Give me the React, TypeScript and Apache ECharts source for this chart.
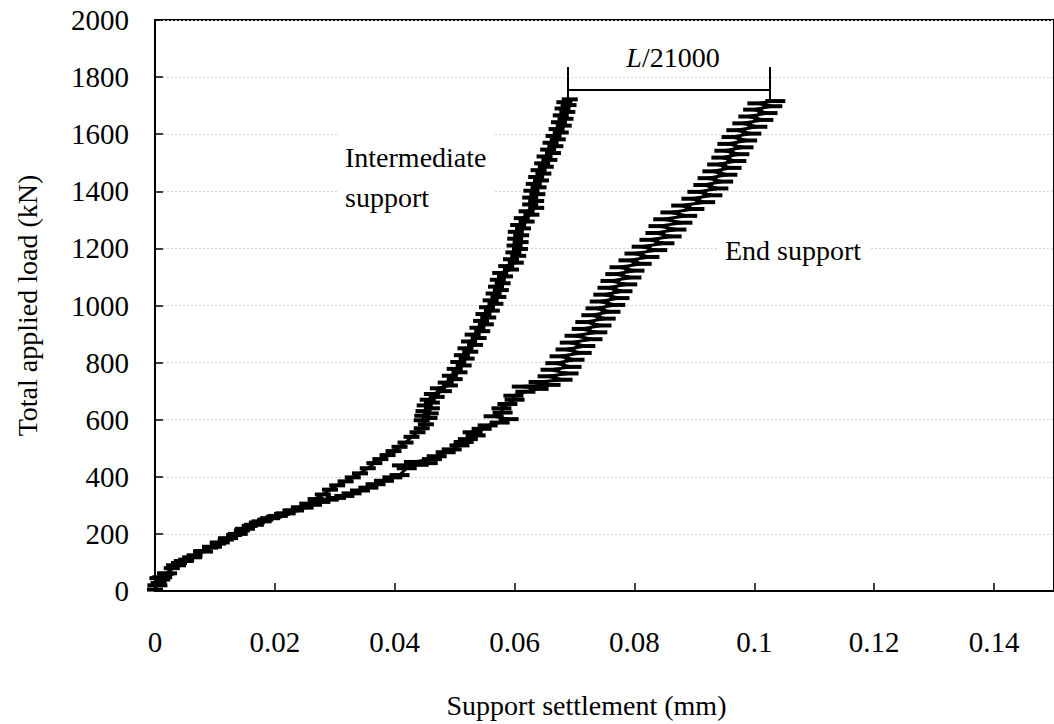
import React, { useEffect, useRef } from "react";
import * as echarts from "echarts";

// Support settlement (mm) vs total applied load (kN)
const intermediateSupport: number[][] = [
  [0.0, 5], [0.0006, 28], [0.0012, 40], [0.0004, 45], [0.0018, 60], [0.0028, 80], [0.004, 98],
  [0.0052, 110], [0.0066, 125], [0.0078, 140], [0.0092, 152], [0.0105, 166], [0.0118, 180],
  [0.0132, 196], [0.0145, 212], [0.0158, 228], [0.017, 240], [0.0184, 250], [0.0198, 260],
  [0.0212, 270], [0.0226, 282], [0.024, 293], [0.0254, 306], [0.0268, 322], [0.028, 338],
  [0.0292, 355], [0.0304, 370], [0.0318, 384], [0.033, 398], [0.0342, 412], [0.0355, 430],
  [0.0366, 448], [0.0376, 462], [0.0388, 476], [0.0398, 490], [0.0408, 505], [0.0418, 520],
  [0.0428, 540], [0.0438, 556], [0.0445, 570], [0.0452, 584], [0.0445, 598], [0.0458, 606],
  [0.0446, 614], [0.046, 622], [0.0448, 630], [0.0462, 640], [0.045, 650], [0.0462, 660],
  [0.0455, 670], [0.047, 680], [0.0462, 690], [0.0482, 700], [0.0472, 710], [0.0492, 720],
  [0.0485, 730], [0.05, 742], [0.0492, 754], [0.0508, 766], [0.05, 778], [0.0515, 790],
  [0.0506, 802], [0.052, 814], [0.0512, 826], [0.0526, 838], [0.0518, 850], [0.0534, 862],
  [0.0524, 874], [0.054, 886], [0.053, 898], [0.0546, 910], [0.0538, 922], [0.0552, 934],
  [0.0544, 946], [0.0556, 958], [0.0548, 970], [0.0562, 982], [0.0554, 994], [0.0568, 1006],
  [0.056, 1018], [0.0573, 1030], [0.0565, 1042], [0.0577, 1054], [0.0569, 1066], [0.058, 1078],
  [0.0572, 1090], [0.0584, 1102], [0.0576, 1114], [0.0594, 1126], [0.0586, 1138], [0.0602, 1150],
  [0.0594, 1162], [0.0606, 1174], [0.0598, 1186], [0.0609, 1198], [0.06, 1210], [0.061, 1222],
  [0.0601, 1234], [0.0611, 1246], [0.0602, 1258], [0.0614, 1270], [0.0606, 1282], [0.062, 1294],
  [0.0612, 1306], [0.0628, 1318], [0.062, 1330], [0.0636, 1342], [0.0626, 1354], [0.0636, 1366],
  [0.0626, 1378], [0.0638, 1390], [0.0628, 1402], [0.064, 1414], [0.0632, 1426], [0.0644, 1438],
  [0.0636, 1450], [0.0648, 1462], [0.064, 1474], [0.0652, 1486], [0.0646, 1498], [0.0658, 1510],
  [0.065, 1522], [0.0664, 1534], [0.0656, 1546], [0.0668, 1558], [0.066, 1570], [0.0672, 1582],
  [0.0665, 1594], [0.0677, 1606], [0.067, 1618], [0.0682, 1630], [0.0674, 1642], [0.0685, 1654],
  [0.0677, 1666], [0.0688, 1678], [0.068, 1690], [0.069, 1702], [0.0683, 1712], [0.0692, 1722],
];

const endSupport: number[][] = [
  [0.0004, 20], [0.0012, 48], [0.002, 62], [0.0035, 90], [0.0048, 105], [0.0062, 118],
  [0.008, 138], [0.0095, 155], [0.0108, 170], [0.0122, 185], [0.0138, 200], [0.015, 218],
  [0.0165, 232], [0.0178, 244], [0.0192, 255], [0.0205, 263], [0.0218, 272], [0.0232, 282],
  [0.0248, 292], [0.0262, 302], [0.0276, 312], [0.029, 320], [0.0302, 326], [0.0316, 333],
  [0.0328, 342], [0.0342, 352], [0.0356, 362], [0.0368, 374], [0.0382, 386], [0.0396, 398],
  [0.0408, 406], [0.042, 430], [0.0412, 440], [0.044, 442], [0.0455, 448], [0.0432, 452],
  [0.0462, 462], [0.047, 472], [0.0485, 486], [0.0495, 496], [0.0508, 510], [0.0515, 522],
  [0.0522, 532], [0.0535, 545], [0.053, 556], [0.0545, 568], [0.0555, 580], [0.0575, 590],
  [0.059, 602], [0.0565, 612], [0.058, 625], [0.0578, 640], [0.0588, 655], [0.06, 670],
  [0.0598, 684], [0.0618, 698], [0.064, 708], [0.0612, 716], [0.066, 722], [0.064, 732],
  [0.068, 740], [0.0655, 752], [0.069, 762], [0.066, 775], [0.0695, 785], [0.0668, 798],
  [0.07, 810], [0.0675, 822], [0.0712, 834], [0.0685, 846], [0.0718, 858], [0.0692, 870],
  [0.073, 882], [0.07, 894], [0.0738, 906], [0.0712, 918], [0.0745, 930], [0.0718, 942],
  [0.0752, 954], [0.0728, 966], [0.076, 978], [0.0735, 990], [0.0768, 1002], [0.0742, 1014],
  [0.0775, 1026], [0.0748, 1038], [0.078, 1050], [0.0755, 1062], [0.0788, 1074], [0.076, 1086],
  [0.0795, 1098], [0.0768, 1110], [0.08, 1122], [0.0775, 1134], [0.0812, 1146], [0.079, 1158],
  [0.0825, 1170], [0.08, 1182], [0.0838, 1194], [0.0812, 1206], [0.085, 1218], [0.0825, 1230],
  [0.0862, 1242], [0.0835, 1254], [0.087, 1266], [0.084, 1278], [0.088, 1290], [0.0848, 1302],
  [0.0888, 1314], [0.086, 1326], [0.09, 1338], [0.0878, 1350], [0.0918, 1362], [0.0895, 1374],
  [0.093, 1386], [0.0905, 1398], [0.094, 1410], [0.0915, 1422], [0.0948, 1434], [0.0922, 1446],
  [0.0955, 1458], [0.093, 1470], [0.0962, 1482], [0.0938, 1494], [0.097, 1506], [0.0945, 1518],
  [0.0975, 1530], [0.095, 1542], [0.0982, 1554], [0.0955, 1566], [0.0988, 1578], [0.0962, 1590],
  [0.0995, 1602], [0.097, 1614], [0.1005, 1626], [0.098, 1638], [0.1015, 1650], [0.099, 1662],
  [0.1022, 1674], [0.0998, 1686], [0.103, 1698], [0.1005, 1708], [0.1035, 1716],
];

// L/21000 bracket (settlement positions and load levels)
const bracketSettlement = [0.0688, 0.1025];
const bracketLoad = 1755;
const bracketTickLoads = [1720, 1835];

const annotationTexts = ["Intermediate\nsupport", "End support", "{i|L}/21000"];

const FONT = "Liberation Serif";

export default function App() {
  const ref = useRef<HTMLDivElement>(null);
  useEffect(() => {
    const chart = echarts.init(ref.current!, null, { renderer: "svg" });
    const markerSeries = (name: string, data: number[][], w: number) => ({
      name,
      type: "line",
      data,
      symbol: "rect",
      symbolSize: [w, 4],
      showAllSymbol: true,
      itemStyle: { color: "#000" },
      lineStyle: { color: "#000", width: 3 },
      z: 3,
    });
    chart.setOption({
      animation: false,
      backgroundColor: "#fff",
      textStyle: { fontFamily: FONT },
      grid: {
        left: 155,
        top: 20,
        bottom: 132,
        right: -8,
        show: true,
        borderColor: "#000",
        borderWidth: 2,
        backgroundColor: "transparent",
      },
      xAxis: {
        type: "value",
        min: 0,
        max: 0.15,
        interval: 0.02,
        name: "Support settlement (mm)",
        nameLocation: "middle",
        nameGap: 100,
        nameTextStyle: { fontFamily: FONT, fontSize: 28, color: "#000", padding: [0, 36, 0, 0] },
        axisLine: { lineStyle: { color: "#000", width: 2 } },
        axisTick: { inside: true, length: 8, lineStyle: { color: "#000", width: 1.5 } },
        axisLabel: {
          fontFamily: FONT,
          fontSize: 29,
          color: "#000",
          margin: 36,
          showMaxLabel: false,
          formatter: (v: number) => String(+v.toFixed(2)),
        },
        splitLine: { show: false },
      },
      yAxis: {
        type: "value",
        min: 0,
        max: 2000,
        interval: 200,
        name: "Total applied load (kN)",
        nameLocation: "middle",
        nameGap: 114,
        nameTextStyle: { fontFamily: FONT, fontSize: 28, color: "#000" },
        axisLine: { lineStyle: { color: "#000", width: 2 } },
        axisTick: { inside: true, length: 8, lineStyle: { color: "#000", width: 1.5 } },
        axisLabel: {
          fontFamily: FONT,
          fontSize: 29,
          color: "#000",
          margin: 26,
          formatter: (v: number) => String(v),
        },
        splitLine: { show: true, lineStyle: { color: "#d4d4d4", width: 1, type: [2, 2] } },
      },
      series: [
        markerSeries("Intermediate support", intermediateSupport, 16),
        {
          ...markerSeries("End support", endSupport, 20),
          markLine: {
            silent: true,
            symbol: ["none", "none"],
            label: { show: false },
            lineStyle: { color: "#000", width: 2, type: "solid" },
            data: [
              [
                { coord: [bracketSettlement[0], bracketTickLoads[0]] },
                { coord: [bracketSettlement[0], bracketTickLoads[1]] },
              ],
              [
                { coord: [bracketSettlement[0], bracketLoad] },
                { coord: [bracketSettlement[1], bracketLoad] },
              ],
              [
                { coord: [bracketSettlement[1], bracketTickLoads[0]] },
                { coord: [bracketSettlement[1], bracketTickLoads[1]] },
              ],
            ],
          },
        },
      ],
      graphic: [
        {
          type: "text",
          x: 337,
          y: 127,
          z: 10,
          style: {
            text: annotationTexts[0],
            fontFamily: FONT,
            fontSize: 28,
            lineHeight: 40,
            fill: "#000",
            backgroundColor: "#fff",
            padding: [10, 8, 10, 8],
          },
        },
        {
          type: "text",
          x: 717,
          y: 228,
          z: 10,
          style: {
            text: annotationTexts[1],
            fontFamily: FONT,
            fontSize: 28,
            lineHeight: 40,
            fill: "#000",
            backgroundColor: "#fff",
            padding: [2, 8, 2, 8],
          },
        },
        {
          type: "text",
          x: 673,
          y: 57,
          z: 10,
          style: {
            text: annotationTexts[2],
            fontFamily: FONT,
            fontSize: 28,
            fill: "#000",
            align: "center",
            verticalAlign: "middle",
            rich: {
              i: { fontFamily: FONT, fontSize: 28, fontStyle: "italic", fill: "#000" },
            },
          },
        },
      ],
    });
    return () => chart.dispose();
  }, []);
  return (
    <div
      ref={ref}
      style={{ position: "absolute", left: 0, top: 0, width: 1054, height: 724, background: "#fff" }}
    />
  );
}
